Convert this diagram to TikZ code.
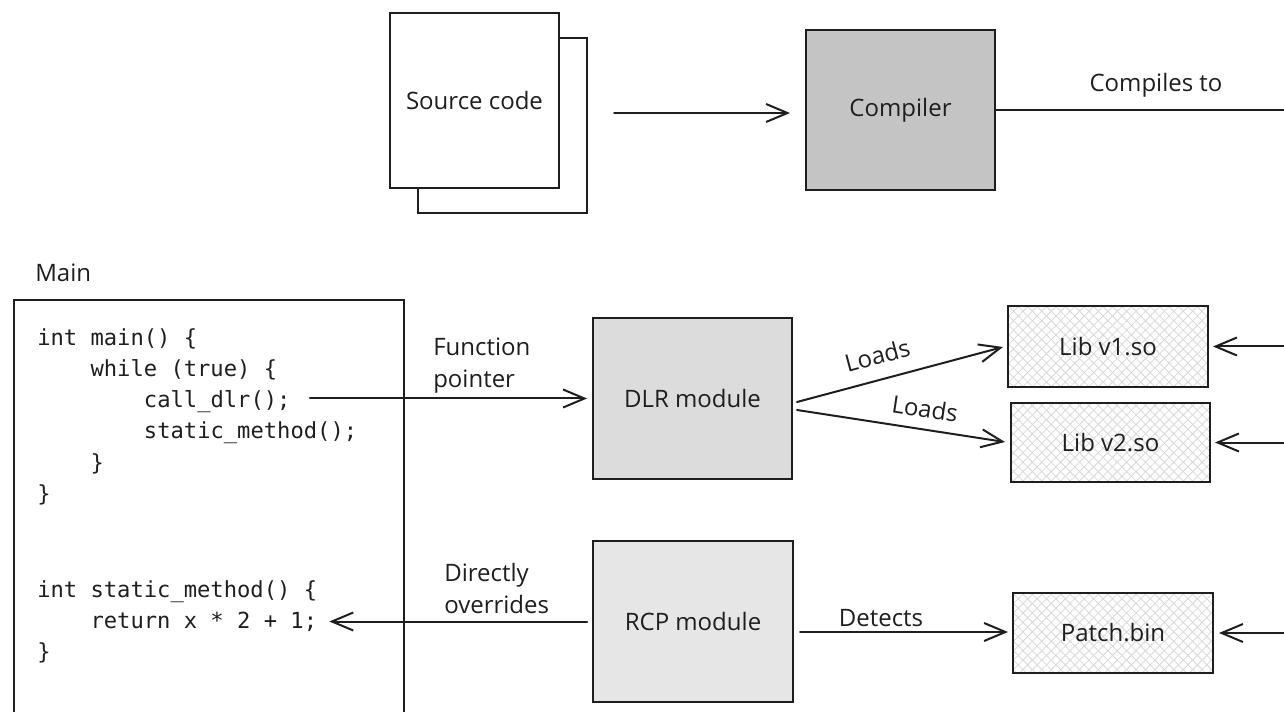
\documentclass[tikz,border=0pt]{standalone}
\usepackage{fontspec}
\setmainfont{Open Sans}
\newfontfamily\codefont{DejaVu Sans Mono}
\usetikzlibrary{arrows.meta,patterns.meta,calc}
\definecolor{ink}{HTML}{1E1E1E}
\definecolor{gA}{HTML}{C4C4C4}
\definecolor{gB}{HTML}{DCDCDC}
\definecolor{gC}{HTML}{E6E6E6}
\definecolor{hatchc}{HTML}{D8D8D8}
\begin{document}
\begin{tikzpicture}[x=0.75pt,y=-0.75pt,
  lbl/.style={font=\fontsize{18}{24}\selectfont, inner sep=0pt, text=ink},
  box/.style={draw=ink, line width=1.5pt, inner sep=0pt, text=ink, font=\fontsize{18}{20}\selectfont},
  hatched/.style={box,
    preaction={fill=white},
    preaction={pattern={Lines[angle=45,distance=5pt,line width=0.6pt]}, pattern color=hatchc},
    preaction={pattern={Lines[angle=-45,distance=5pt,line width=0.6pt]}, pattern color=hatchc}},
  code/.style={font=\codefont\fontsize{16.6}{20}\selectfont, inner sep=0pt, anchor=base west, text=ink},
  arr/.style={draw=ink, line width=1.5pt, line cap=round, -{Straight Barb[length=16pt,width=13.5pt,line width=1.5pt]}},
  ln/.style={draw=ink, line width=1.5pt, line cap=round}
]
\useasboundingbox (0,0) rectangle (1284,712);
\clip (0,0) rectangle (1284,712);
\coordinate (edge) at (1300,0);

% top row
\node[box, fill=white, minimum width=169*0.75pt, minimum height=175*0.75pt] (srcback) at (502.5,125.5) {};
\node[box, fill=white, minimum width=169*0.75pt, minimum height=175*0.75pt] (src) at (474.5,101) {Source code};
\node[box, fill=gA, minimum width=189*0.75pt, minimum height=160*0.75pt] (comp) at (900.5,110) {Compiler};
\draw[arr] ($(srcback.east)+(26,-12.5)$) -- ($(comp.west)+(-15,3)$);
\draw[ln] (comp.east) -- (comp.east -| edge);
\node[lbl, anchor=base] (cto) at (1156,92) {Compiles to};

% main
\node[lbl, anchor=base west] (mainlbl) at (35,282) {Main};
\node[box, minimum width=390*0.75pt, minimum height=470*0.75pt, anchor=north west] (mainbox) at (12.7,299) {};
\node[code] (c1) at (37,346) {int main() \{};
\node[code] (c2) at (90.3,377) {while (true) \{};
\node[code] (c3) at (143.7,408) {call\_dlr();};
\node[code] (c4) at (143.7,439) {static\_method();};
\node[code] (c5) at (90.3,470) {\}};
\node[code] (c6) at (37,501) {\}};
\node[code] (c7) at (37,597) {int static\_method() \{};
\node[code] (c8) at (90.3,628) {return x * 2 + 1;};
\node[code] (c9) at (37,659) {\}};

% modules
\node[box, fill=gB, minimum width=199*0.75pt, minimum height=161*0.75pt] (dlr) at (692.5,398.5) {DLR module};
\node[box, fill=gC, minimum width=200*0.75pt, minimum height=161*0.75pt] (rcp) at (693,621.5) {RCP module};
\node[hatched, minimum width=200*0.75pt, minimum height=81*0.75pt] (lib1) at (1108,346.5) {Lib v1.so};
\node[hatched, minimum width=199*0.75pt, minimum height=79*0.75pt] (lib2) at (1110.5,442.5) {Lib v2.so};
\node[hatched, minimum width=200*0.75pt, minimum height=80*0.75pt] (patch) at (1113,633) {Patch.bin};

% connectors
\coordinate (fpS) at ($(c3.east)+(19,0)$);
\draw[arr] (fpS |- dlr.west) -- ($(dlr.west)+(-5,0)$);
\node[lbl, anchor=west, align=left] (fpl) at (433,366) {Function\\pointer};

\draw[arr] ($(dlr.east)+(4,3.5)$) -- node[lbl, sloped, pos=0.42, above=10.5pt] {Loads} ($(lib1.west)+(-4,0.5)$);
\draw[arr] ($(dlr.east)+(4,11.5)$) -- node[lbl, sloped, pos=0.6, above=8pt] {Loads} ($(lib2.west)+(-5,-0.5)$);

\draw[arr] (lib1.east -| edge) -- ($(lib1.east)+(4,0)$);
\draw[arr] (lib2.east -| edge) -- ($(lib2.east)+(4,0)$);
\draw[arr] (patch.east -| edge) -- ($(patch.east)+(5,0)$);

\coordinate (ovE) at ($(c8.east)+(12,0)$);
\draw[arr] ($(rcp.west)+(-5,0)$) -- (ovE |- rcp.west);
\node[lbl, anchor=west, align=left] (ovl) at (444,588.5) {Directly\\overrides};

\draw[arr] ($(rcp.east)+(6,10.5)$) -- ($(patch.west)+(-4,-1)$);
\node[lbl, anchor=base] (detl) at (881,626) {Detects};
\end{tikzpicture}
\end{document}
